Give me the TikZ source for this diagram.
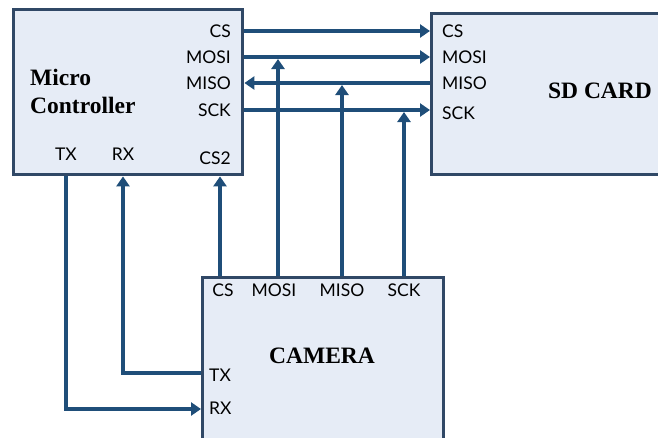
\documentclass[tikz,border=0pt]{standalone}
\usepackage{fontspec}
\setmainfont{Liberation Serif}
\newfontfamily\pinfont{Lato}
\usetikzlibrary{arrows.meta}
\definecolor{wireblue}{RGB}{31,78,121}
\definecolor{boxedge}{RGB}{48,72,102}
\definecolor{boxfill}{RGB}{230,236,246}
\begin{document}
\begin{tikzpicture}[x=1pt, y=-1pt,
  box/.style={draw=boxedge, fill=boxfill, line width=3.4pt, anchor=north west, inner sep=0pt},
  wire/.style={draw=wireblue, line width=3.2pt, -{Triangle[length=10pt,width=13pt]}},
  pin/.style={font=\pinfont\fontsize{17.5}{20}\selectfont, inner sep=0pt},
  title/.style={font=\bfseries\fontsize{23.5}{28}\selectfont, align=left, inner sep=0pt}
]
\useasboundingbox (0,0) rectangle (658,437);
\begin{scope}
\clip (0,0) rectangle (658,437);
% blocks
\node[box, minimum width=229pt, minimum height=165pt] (mcu) at (12,8) {};
\node[box, minimum width=250pt, minimum height=161pt] (sd) at (430,12) {};
\node[box, minimum width=241pt, minimum height=180pt] (cam) at (201,276) {};
\end{scope}

% titles
\node[title, anchor=west] (mcutitle) at (30,91) {Micro\\Controller};
\node[title] (sdtitle) at (600,91) {SD CARD};
\node[title] (camtitle) at (322,356) {CAMERA};

% micro controller pins
\node[pin, anchor=east] (mcs) at (231,31) {CS};
\node[pin, anchor=east] (mmosi) at (231,57) {MOSI};
\node[pin, anchor=east] (mmiso) at (231,83) {MISO};
\node[pin, anchor=east] (msck) at (231,110) {SCK};
\node[pin, anchor=east] (mcs2) at (231,158) {CS2};
\node[pin] (mtx) at (66,154) {TX};
\node[pin] (mrx) at (123,154) {RX};

% sd card pins
\node[pin, anchor=west] (scs) at (442,31) {CS};
\node[pin, anchor=west] (smosi) at (442,57) {MOSI};
\node[pin, anchor=west] (smiso) at (442,83) {MISO};
\node[pin, anchor=west] (ssck) at (442,113) {SCK};

% camera pins
\node[pin] (ccs) at (223,290) {CS};
\node[pin] (cmosi) at (274,290) {MOSI};
\node[pin] (cmiso) at (342,290) {MISO};
\node[pin] (csck) at (404,290) {SCK};
\node[pin, anchor=west] (ctx) at (209,375) {TX};
\node[pin, anchor=west] (crx) at (209,408) {RX};

% bus taps
\coordinate (tapmosi) at (278,59);
\coordinate (tapmiso) at (342,85);
\coordinate (tapsck) at (404,112);

% spi bus
\draw[wire] (mcu.east |- 0,31) -- (sd.west |- 0,31);
\draw[wire] (mcu.east |- 0,57) -- (sd.west |- 0,57);
\draw[wire] (sd.west |- 0,83) -- (mcu.east |- 0,83);
\draw[wire] (mcu.east |- 0,110) -- (sd.west |- 0,110);
\draw[wire] (cam.north -| tapmosi) -- (tapmosi);
\draw[wire] (cam.north -| tapmiso) -- (tapmiso);
\draw[wire] (cam.north -| tapsck) -- (tapsck);
\draw[wire] (cam.north -| 220,0) -- (mcu.south -| 220,0);

% uart
\draw[wire] (mcu.south -| mtx) |- (cam.west |- 0,409);
\draw[wire] (cam.west |- 0,373) -| (mcu.south -| mrx);
\end{tikzpicture}
\end{document}
